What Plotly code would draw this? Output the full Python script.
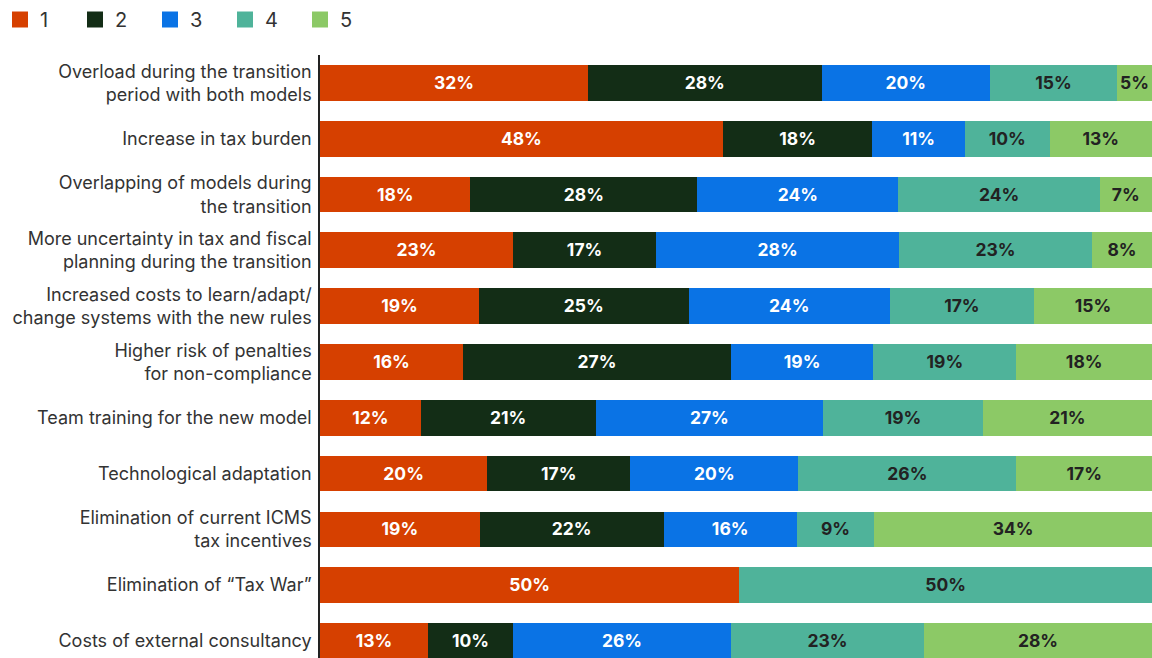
import plotly.graph_objects as go

categories = [
    "Overload during the transition<br>period with both models",
    "Increase in tax burden",
    "Overlapping of models during<br>the transition",
    "More uncertainty in tax and fiscal<br>planning during the transition",
    "Increased costs to learn/adapt/<br>change systems with the new rules",
    "Higher risk of penalties<br>for non-compliance",
    "Team training for the new model",
    "Technological adaptation",
    "Elimination of current ICMS<br>tax incentives",
    "Elimination of “Tax War”",
    "Costs of external consultancy",
]

series_names = ["1", "2", "3", "4", "5"]

# bar lengths (share of the row, %)
s1 = [32.2, 48.4, 18.1, 23.2, 19.1, 17.2, 12.1, 20.1, 19.2, 50.4, 13.0]
s2 = [28.1, 18.0, 27.3, 17.2, 25.2, 32.2, 21.0, 17.2, 22.1, 0.0, 10.2]
s3 = [20.2, 11.1, 24.2, 29.2, 24.2, 17.1, 27.3, 20.2, 16.0, 0.0, 26.2]
s4 = [15.3, 10.2, 24.2, 23.2, 17.3, 17.2, 19.2, 26.2, 9.3, 49.6, 23.2]
s5 = [4.2, 12.3, 6.3, 7.2, 14.2, 16.3, 20.3, 16.3, 33.4, 0.0, 27.4]

# labels printed on the bars
l1 = [32, 48, 18, 23, 19, 16, 12, 20, 19, 50, 13]
l2 = [28, 18, 28, 17, 25, 27, 21, 17, 22, None, 10]
l3 = [20, 11, 24, 28, 24, 19, 27, 20, 16, None, 26]
l4 = [15, 10, 24, 23, 17, 19, 19, 26, 9, 50, 23]
l5 = [5, 13, 7, 8, 15, 18, 21, 17, 34, None, 28]

colors = ["#D64000", "#132D16", "#0A73E5", "#4FB39A", "#8CC966"]
text_colors = ["#FFFFFF", "#FFFFFF", "#FFFFFF", "#222222", "#222222"]

fig = go.Figure()
for name, vals, labs, col, tcol in zip(series_names, [s1, s2, s3, s4, s5],
                                       [l1, l2, l3, l4, l5], colors, text_colors):
    fig.add_trace(go.Bar(
        name=name,
        y=categories,
        x=vals,
        orientation="h",
        marker=dict(color=col, line=dict(width=0)),
        text=[f"{v}%" if v is not None else "" for v in labs],
        texttemplate="%{text}",
        textposition="inside",
        insidetextanchor="middle",
        textangle=0,
        textfont=dict(color=tcol, size=19, family="Inter", weight="bold"),
        hovertemplate="%{y}: %{text}<extra>" + name + "</extra>",
        showlegend=False,
    ))

# legend entries (square swatches)
for name, col in zip(series_names, colors):
    fig.add_trace(go.Scatter(
        name=name, x=[None], y=[None], mode="markers",
        marker=dict(symbol="square", size=16, color=col),
        showlegend=True, hoverinfo="skip",
    ))

fig.update_layout(
    barmode="stack",
    barnorm="percent",
    bargap=0.36,
    width=1152,
    height=658,
    margin=dict(l=320, r=0, t=55, b=0, pad=0),
    plot_bgcolor="white",
    paper_bgcolor="white",
    font=dict(family="Inter", color="#333333", size=18),
    uniformtext=dict(minsize=10, mode="show"),
    legend=dict(
        orientation="h",
        x=-0.006, xref="container", xanchor="left",
        y=1.0, yref="container", yanchor="top",
        font=dict(size=20, color="#333333"),
        entrywidth=30, entrywidthmode="pixels",
        itemwidth=30,
        traceorder="normal",
        itemclick=False, itemdoubleclick=False,
    ),
    showlegend=True,
)
fig.update_xaxes(range=[0, 100], visible=False, fixedrange=True)
fig.update_yaxes(
    range=[10.305, -0.5],
    showline=True, linecolor="#222222", linewidth=1.5,
    showgrid=False, zeroline=False,
    ticks="", ticklabelstandoff=3,
    tickfont=dict(size=18, color="#333333"),
    fixedrange=True,
)

fig.write_html("out.html")
